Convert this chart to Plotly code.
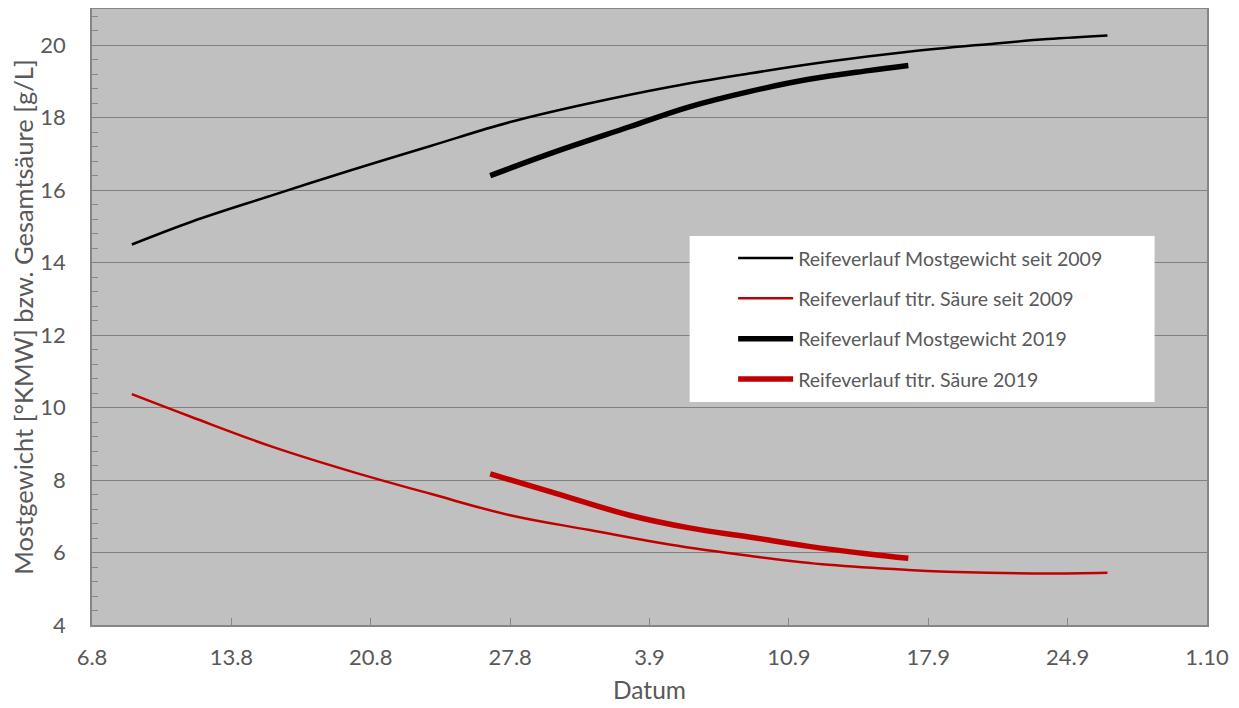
import plotly.graph_objects as go

# ---- data ----
dates_avg = ["2019-08-08", "2019-08-11", "2019-08-15", "2019-08-19", "2019-08-23",
             "2019-08-27", "2019-08-31", "2019-09-04", "2019-09-08", "2019-09-12",
             "2019-09-16", "2019-09-20", "2019-09-23", "2019-09-26"]
most_avg = [14.50, 15.13, 15.85, 16.55, 17.22, 17.88, 18.40, 18.85, 19.22, 19.55,
            19.82, 20.03, 20.17, 20.27]
saeure_avg = [10.37, 9.74, 8.93, 8.24, 7.62, 7.03, 6.62, 6.22, 5.91, 5.66,
              5.52, 5.44, 5.42, 5.44]

dates_2019 = ["2019-08-26", "2019-08-29", "2019-09-02", "2019-09-05", "2019-09-08",
              "2019-09-11", "2019-09-14", "2019-09-16"]
most_2019 = [16.40, 17.01, 17.75, 18.30, 18.72, 19.06, 19.30, 19.44]
saeure_2019 = [8.17, 7.68, 7.03, 6.68, 6.43, 6.17, 5.96, 5.84]

names = ["Reifeverlauf Mostgewicht seit 2009", "Reifeverlauf titr. Säure seit 2009",
         "Reifeverlauf Mostgewicht 2019", "Reifeverlauf titr. Säure 2019"]

tick_vals = ["2019-08-06", "2019-08-13", "2019-08-20", "2019-08-27", "2019-09-03",
             "2019-09-10", "2019-09-17", "2019-09-24", "2019-10-01"]
tick_text = ["6.8", "13.8", "20.8", "27.8", "3.9", "10.9", "17.9", "24.9", "1.10"]

BLACK = "#000000"
RED = "#C00000"
FONT = "Lato"
TXT = "#595959"

fig = go.Figure()
fig.add_trace(go.Scatter(x=dates_avg, y=most_avg, name=names[0], mode="lines",
                         line=dict(color=BLACK, width=2.5, shape="spline", smoothing=1.1),
                         legendgroup="a"))
fig.add_trace(go.Scatter(x=dates_avg, y=saeure_avg, name=names[1], mode="lines",
                         line=dict(color=RED, width=2.5, shape="spline", smoothing=1.1),
                         legendgroup="b"))
fig.add_trace(go.Scatter(x=dates_2019, y=most_2019, name=names[2], mode="lines",
                         line=dict(color=BLACK, width=5.5, shape="spline", smoothing=1.1),
                         legendgroup="c"))
fig.add_trace(go.Scatter(x=dates_2019, y=saeure_2019, name=names[3], mode="lines",
                         line=dict(color=RED, width=5.5, shape="spline", smoothing=1.1),
                         legendgroup="d"))

# white legend panel
fig.add_shape(type="rect", xref="paper", yref="paper", x0=0.536, x1=0.953, y0=0.362, y1=0.6315,
              fillcolor="white", line=dict(width=0), layer="above")

fig.update_layout(
    width=1231, height=700,
    margin=dict(l=84, r=32, t=1, b=83, autoexpand=False),
    paper_bgcolor="white", plot_bgcolor="#C0C0C0",
    font=dict(family=FONT, color=TXT, size=22),
    showlegend=True,
    legend=dict(x=0.575, y=0.627, xanchor="left", yanchor="top", bgcolor="rgba(0,0,0,0)",
                font=dict(family=FONT, size=19.5, color=TXT), tracegroupgap=12,
                itemwidth=55),
    xaxis=dict(type="date", range=["2019-08-06", "2019-10-01"],
               tickmode="array", tickvals=tick_vals, ticktext=tick_text,
               ticks="inside", ticklen=7, tickcolor="#868686", ticklabelstandoff=12,
               showgrid=False, showline=True, linecolor="#868686", linewidth=1.5, mirror=True,
               zeroline=False,
               title=dict(text="Datum", font=dict(size=24.5, color=TXT), standoff=13),
               tickfont=dict(size=22, color=TXT)),
    yaxis=dict(range=[4, 21], tickmode="linear", tick0=4, dtick=2,
               ticks="", showgrid=True, gridcolor="#808080", gridwidth=1.2,
               showline=True, linecolor="#868686", linewidth=1.5, mirror=True, zeroline=False,
               ticklabelstandoff=20,
               minor=dict(dtick=0.4, tick0=4, ticks="inside", ticklen=6, tickcolor="#868686",
                          showgrid=False),
               title=dict(text="Mostgewicht [°KMW] bzw. Gesamtsäure [g/L]",
                          font=dict(size=25.5, color=TXT), standoff=9),
               tickfont=dict(size=22, color=TXT)),
)

fig.write_html("out.html")
